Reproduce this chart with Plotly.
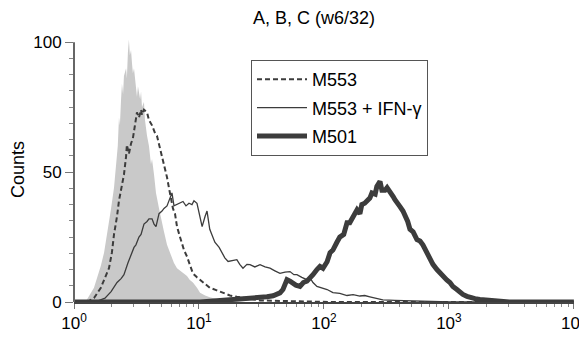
import plotly.graph_objects as go

title_text = "A, B, C (w6/32)"
y_title = "Counts"

# isotype control (grey filled histogram)
iso_x = [1.20, 1.27, 1.445, 1.53, 1.64, 1.74, 1.84, 1.905, 1.98, 2.09, 2.17, 2.24, 2.29, 2.33, 2.38,
         2.42, 2.47, 2.51, 2.61, 2.65, 2.70, 2.75, 2.80, 2.86, 2.91, 2.96, 3.02, 3.13, 3.19, 3.25,
         3.38, 3.44, 3.50, 3.63, 3.70, 3.84, 3.98, 4.13, 4.21, 4.37, 4.53, 4.79, 4.97, 5.25, 5.55,
         5.97, 6.31, 6.67, 7.05, 7.45, 8.02, 8.45, 8.95, 9.64, 10.2, 11.2, 12.2, 13.9, 16.1, 18.7, 23.4]
iso_y = [0, 1, 5.5, 9, 14, 19, 26, 30, 36, 44, 52, 60, 71, 68, 78,
         84, 80, 87, 90, 86, 96, 101, 95, 97, 92, 88, 90, 82, 79, 83,
         78, 81, 75, 77, 70, 64, 60, 53, 55, 49, 42, 36, 32, 27, 22,
         18, 15, 13, 12, 11, 10, 8.5, 7.5, 5.5, 3.6, 2.5, 1.8, 1.2, 0.6, 0.3, 0]

# M553
m553_x = [1.27, 1.445, 1.64, 1.77, 1.905, 2.01, 2.09, 2.21, 2.29, 2.42, 2.51, 2.61, 2.65, 2.75, 2.86,
          2.96, 3.02, 3.13, 3.19, 3.31, 3.44, 3.50, 3.63, 3.84, 3.98, 4.21, 4.45, 4.61, 4.88, 5.06,
          5.36, 5.55, 5.75, 5.97, 6.19, 6.43, 6.67, 7.05, 7.59, 8.02, 8.45, 8.95, 9.64, 10.2, 11.2,
          12.2, 13.9, 15.6, 17.7, 20.1, 24.2, 30.8, 44.5, 64.3, 112, 10000]
m553_y = [0, 1.5, 5.5, 9, 13, 19, 26, 33, 39, 45, 49, 56, 60.5, 57, 61,
          63, 65.5, 70, 73, 71, 74, 72, 74, 73, 70, 68, 65, 64, 59, 57,
          52, 48, 44, 40, 36, 34, 29, 25, 20, 17.5, 14, 11, 9.5, 8.6, 7,
          5.5, 4.5, 3.6, 2.5, 2, 1.3, 0.6, 0.4, 0.2, 0, 0]

# M553 + IFN-gamma
ifn_x = [1.47, 1.77, 1.98, 2.21, 2.38, 2.51, 2.70, 2.86, 3.02, 3.13, 3.31, 3.44, 3.63, 3.84, 3.98,
         4.21, 4.37, 4.53, 4.79, 5.06, 5.25, 5.55, 5.75, 6.08, 6.31, 6.67, 7.05, 7.45, 7.87, 8.32,
         8.79, 9.12, 9.64, 10.0, 10.6, 11.2, 11.6, 12.2, 12.9, 13.4, 14.5, 15.3, 16.1, 17.1, 18.4,
         20.1, 21.2, 22.5, 24.2, 25.6, 28.0, 30.8, 33.8, 37.0, 40.5, 44.5, 48.8, 53.5, 57.5, 60.8,
         66.5, 73.1, 77.3, 81.7, 87.9, 96.4, 106, 118, 134, 153, 171, 194, 212, 233, 265,
         296, 370, 488, 705, 1019, 10000]
ifn_y = [0, 1.5, 4, 7.5, 9, 10.5, 15, 18, 21, 22, 25, 26, 30, 31, 32,
         32, 30, 29, 34, 35, 36, 37, 39, 42, 37, 37.5, 38, 38.7, 37, 38,
         37.5, 39, 38, 34, 29, 33, 35, 28, 25, 23, 21, 19, 17, 15.6, 16,
         16.3, 14.5, 13, 14.5, 14.4, 13.5, 14.4, 13.5, 13, 12, 11, 11.5, 11.7, 10.5, 10.5,
         9.5, 8.6, 9.4, 7.5, 6, 5.5, 4.8, 3.6, 3.3, 2.5, 2.8, 2.3, 2.5, 2, 1.4,
         0.8, 0.6, 0.4, 0.2, 0, 0]

# M501
m501_x = [1.0, 10.2, 13.9, 17.7, 21.2, 25.6, 30.8, 35.0, 39.2, 42.1, 44.5, 47.0, 48.8, 50.6, 53.5,
          56.5, 59.6, 64.3, 68.4, 73.1, 77.3, 81.7, 87.9, 92.9, 98.2, 106, 112, 118, 127, 134,
          144, 153, 161, 171, 184, 194, 201, 212, 221, 233, 242, 257, 265, 281, 291,
          308, 320, 337, 359, 370, 392, 406, 429, 445, 468, 488, 517, 555, 587, 619,
          655, 705, 745, 802, 849, 895, 961, 1019, 1076, 1159, 1222, 1294, 1394, 1472, 1617,
          1770, 2128, 2542, 3039, 10000]
m501_y = [0, 0, 0.5, 0.8, 1, 1.3, 1.7, 2, 2.4, 2.9, 3.5, 4.8, 7, 8.6, 8,
          7, 6.5, 6, 7.5, 8, 9, 10.5, 12.5, 13.7, 13, 15.5, 19, 20, 23, 25,
          26, 30.5, 30.5, 33, 35.5, 34, 37.5, 38, 38.7, 40, 42, 41.5, 44.5, 46.4, 43,
          43, 44, 42, 40.5, 39.4, 38, 36.7, 35, 33.6, 31, 28, 27, 24, 23.5, 22,
          19.5, 17, 14.5, 12.5, 11, 9.8, 8.5, 7.5, 6, 4.8, 3.8, 2.9, 2.2, 1.7, 1.3,
          1, 0.5, 0.2, 0, 0]

series_names = ["M553", "M553 + IFN-\u03b3", "M501"]

x_tick_vals = [1, 10, 100, 1000, 10000]
x_tick_text = ["10<sup>0</sup>", "10<sup>1</sup>", "10<sup>2</sup>", "10<sup>3</sup>", "10<sup>4</sup>"]
y_label_vals = [0, 50, 100]
y_label_text = ["0", "50", "100"]
y_long_tick_vals = [25, 75]

FONT = "Liberation Sans, Arial, Helvetica, sans-serif"
CURVE = "#3c3c3c"

fig = go.Figure()
fig.add_trace(go.Scatter(x=iso_x, y=iso_y, mode="lines", fill="tozeroy",
                         fillcolor="#c9c9c9", line=dict(width=0, color="#c9c9c9"),
                         showlegend=False, hoverinfo="skip"))
fig.add_trace(go.Scatter(x=m553_x, y=m553_y, mode="lines", name=series_names[0], legendgroup="a",
                         line=dict(color=CURVE, width=2, dash="5px,3px")))
fig.add_trace(go.Scatter(x=ifn_x, y=ifn_y, mode="lines", name=series_names[1], legendgroup="b",
                         line=dict(color=CURVE, width=1.3)))
fig.add_trace(go.Scatter(x=m501_x, y=m501_y, mode="lines", name=series_names[2], legendgroup="c",
                         line=dict(color=CURVE, width=5)))

minor_x = [m * 10 ** d for d in range(4) for m in range(2, 10)]

fig.update_layout(
    width=587, height=338,
    margin=dict(l=66, r=21, t=29, b=43.5, autoexpand=False),
    paper_bgcolor="white", plot_bgcolor="white",
    font=dict(family=FONT, size=17, color="black"),
    title=dict(text=title_text, x=0.5213, xref="container", xanchor="center",
               y=0.9704, yref="container", yanchor="middle", font=dict(size=18)),
    showlegend=True,
    legend=dict(x=0.354, y=0.913, xanchor="left", yanchor="top",
                bordercolor="#555555", borderwidth=1, bgcolor="white",
                font=dict(size=18, family=FONT), itemwidth=50, tracegroupgap=2),
    xaxis=dict(type="log", range=[0, 4.001], showgrid=False, zeroline=False, automargin=False,
               showline=True, linecolor="#444444", linewidth=2,
               ticks="outside", ticklen=5, tickwidth=1, tickcolor="#777777",
               tickvals=x_tick_vals, ticktext=x_tick_text, ticklabeloverflow="allow",
               minor=dict(tickvals=minor_x, ticks="outside", ticklen=3, tickcolor="#888888", showgrid=False)),
    yaxis=dict(range=[0, 102], showgrid=False, zeroline=False, showline=False, automargin=False,
               ticks="outside", ticklen=8, tickwidth=1, tickcolor="#777777",
               tickvals=y_label_vals, ticktext=y_label_text,
               title=dict(text=y_title, font=dict(size=18), standoff=5),
               minor=dict(dtick=6.25, tick0=0, ticks="outside", ticklen=4, tickcolor="#888888", showgrid=False)),
    yaxis2=dict(range=[0, 102], overlaying="y", side="left", showgrid=False, zeroline=False,
                showline=False, automargin=False, showticklabels=False,
                ticks="outside", ticklen=8, tickwidth=1, tickcolor="#777777",
                tickvals=y_long_tick_vals),
    shapes=[dict(type="line", xref="paper", yref="y", x0=0, x1=0, y0=0, y1=100,
                 line=dict(color="#666666", width=2))],
)

fig.write_html("out.html")
